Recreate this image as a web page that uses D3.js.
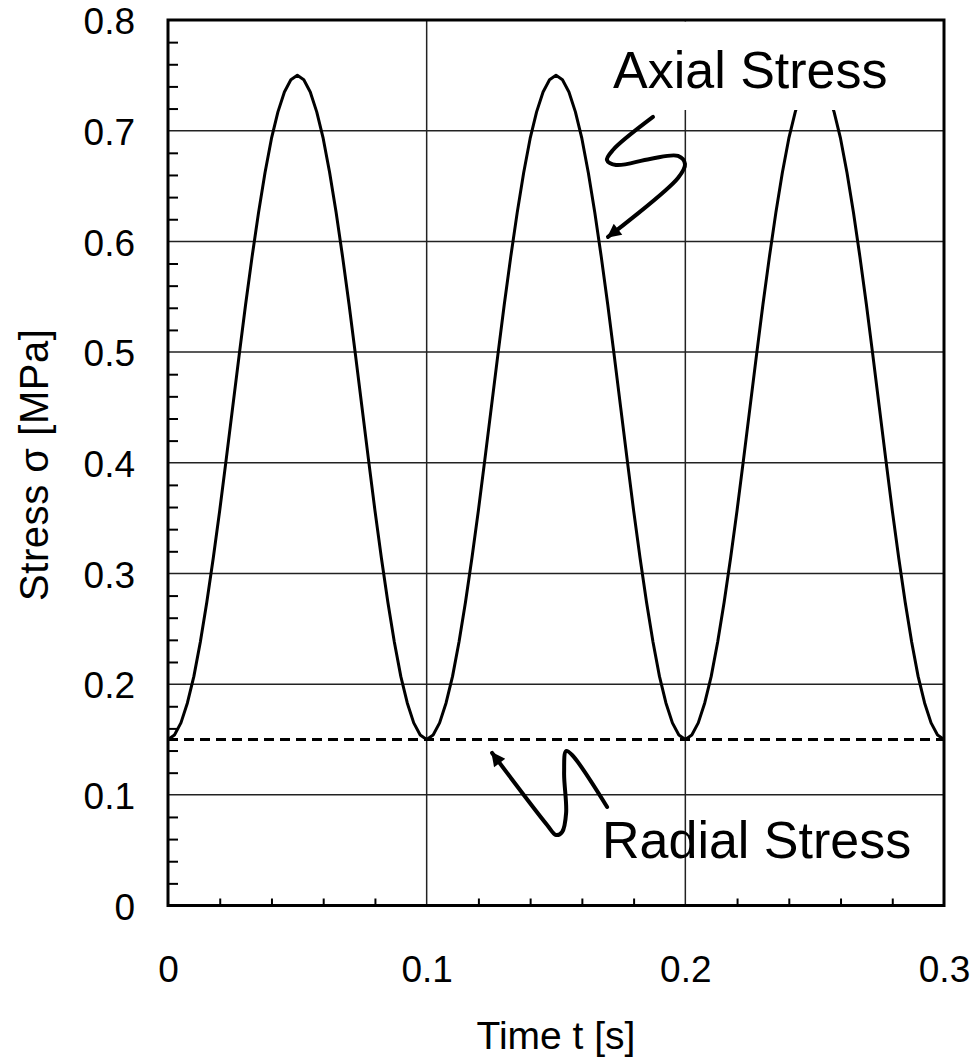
<!DOCTYPE html>
<html lang="en">
<head>
<meta charset="utf-8">
<script src="https://cdn.jsdelivr.net/npm/d3@7"></script>
<title>Axial and Radial Stress vs Time</title>
<style>
    body { margin: 0; background: #fff; }
    svg text { font-family: "Liberation Sans", Arial, sans-serif; fill: #000; }
</style>
</head>
<body>
<div id="chart"></div>
<script>
// sample times [s]
const time = [
    0, 0.0025, 0.005, 0.0075, 0.01, 0.0125, 0.015, 0.0175, 0.02, 0.0225,
    0.025, 0.0275, 0.03, 0.0325, 0.035, 0.0375, 0.04, 0.0425, 0.045, 0.0475,
    0.05, 0.0525, 0.055, 0.0575, 0.06, 0.0625, 0.065, 0.0675, 0.07, 0.0725,
    0.075, 0.0775, 0.08, 0.0825, 0.085, 0.0875, 0.09, 0.0925, 0.095, 0.0975,
    0.1, 0.1025, 0.105, 0.1075, 0.11, 0.1125, 0.115, 0.1175, 0.12, 0.1225,
    0.125, 0.1275, 0.13, 0.1325, 0.135, 0.1375, 0.14, 0.1425, 0.145, 0.1475,
    0.15, 0.1525, 0.155, 0.1575, 0.16, 0.1625, 0.165, 0.1675, 0.17, 0.1725,
    0.175, 0.1775, 0.18, 0.1825, 0.185, 0.1875, 0.19, 0.1925, 0.195, 0.1975,
    0.2, 0.2025, 0.205, 0.2075, 0.21, 0.2125, 0.215, 0.2175, 0.22, 0.2225,
    0.225, 0.2275, 0.23, 0.2325, 0.235, 0.2375, 0.24, 0.2425, 0.245, 0.2475,
    0.25, 0.2525, 0.255, 0.2575, 0.26, 0.2625, 0.265, 0.2675, 0.27, 0.2725,
    0.275, 0.2775, 0.28, 0.2825, 0.285, 0.2875, 0.29, 0.2925, 0.295, 0.2975,
    0.3
];
// axial stress [MPa]
const axialStress = [
    0.150, 0.154, 0.165, 0.183, 0.207, 0.238, 0.274, 0.314, 0.357, 0.403,
    0.450, 0.497, 0.543, 0.586, 0.626, 0.662, 0.693, 0.717, 0.735, 0.746,
    0.750, 0.746, 0.735, 0.717, 0.693, 0.662, 0.626, 0.586, 0.543, 0.497,
    0.450, 0.403, 0.357, 0.314, 0.274, 0.238, 0.207, 0.183, 0.165, 0.154,
    0.150, 0.154, 0.165, 0.183, 0.207, 0.238, 0.274, 0.314, 0.357, 0.403,
    0.450, 0.497, 0.543, 0.586, 0.626, 0.662, 0.693, 0.717, 0.735, 0.746,
    0.750, 0.746, 0.735, 0.717, 0.693, 0.662, 0.626, 0.586, 0.543, 0.497,
    0.450, 0.403, 0.357, 0.314, 0.274, 0.238, 0.207, 0.183, 0.165, 0.154,
    0.150, 0.154, 0.165, 0.183, 0.207, 0.238, 0.274, 0.314, 0.357, 0.403,
    0.450, 0.497, 0.543, 0.586, 0.626, 0.662, 0.693, 0.717, 0.735, 0.746,
    0.750, 0.746, 0.735, 0.717, 0.693, 0.662, 0.626, 0.586, 0.543, 0.497,
    0.450, 0.403, 0.357, 0.314, 0.274, 0.238, 0.207, 0.183, 0.165, 0.154,
    0.150
];
// radial stress is constant
const radialTime = [0, 0.3];
const radialStress = [0.15, 0.15];

const xTicks = [0, 0.1, 0.2, 0.3];
const yTicks = [0, 0.1, 0.2, 0.3, 0.4, 0.5, 0.6, 0.7, 0.8];
const xMinorTicks = [0.02, 0.04, 0.06, 0.08, 0.12, 0.14, 0.16, 0.18, 0.22, 0.24, 0.26, 0.28];
const yMinorTicks = [0.02, 0.04, 0.06, 0.08, 0.12, 0.14, 0.16, 0.18, 0.22, 0.24, 0.26, 0.28,
    0.32, 0.34, 0.36, 0.38, 0.42, 0.44, 0.46, 0.48, 0.52, 0.54, 0.56, 0.58,
    0.62, 0.64, 0.66, 0.68, 0.72, 0.74, 0.76, 0.78];
const xGrid = [0.1, 0.2];
const yGrid = [0.1, 0.2, 0.3, 0.4, 0.5, 0.6, 0.7];

const W = 971, H = 1057;
const x = d3.scaleLinear().domain([0, 0.3]).range([168, 944]);
const y = d3.scaleLinear().domain([0, 0.8]).range([905.5, 20]);

const svg = d3.select("#chart").append("svg")
    .attr("width", W)
    .attr("height", H);

// grid
svg.append("g").selectAll("line")
    .data(yGrid).enter().append("line")
    .attr("x1", x(0)).attr("x2", x(0.3))
    .attr("y1", d => y(d)).attr("y2", d => y(d))
    .attr("stroke", "#222").attr("stroke-width", 1.5);
svg.append("g").selectAll("line")
    .data(xGrid).enter().append("line")
    .attr("x1", d => x(d)).attr("x2", d => x(d))
    .attr("y1", y(0)).attr("y2", y(0.8))
    .attr("stroke", "#222").attr("stroke-width", 1.5);

// minor ticks pointing inwards
const xMinor = svg.append("g")
    .attr("transform", `translate(0,${y(0)})`)
    .call(d3.axisBottom(x).tickValues(xMinorTicks).tickSize(-7).tickFormat(""));
const yMinor = svg.append("g")
    .attr("transform", `translate(${x(0)},0)`)
    .call(d3.axisLeft(y).tickValues(yMinorTicks).tickSize(-10).tickFormat(""));
[xMinor, yMinor].forEach(g => {
    g.select(".domain").remove();
    g.selectAll("line").attr("stroke", "#000").attr("stroke-width", 2);
});

// tick labels
const xAxis = svg.append("g")
    .attr("transform", `translate(0,${y(0)})`)
    .call(d3.axisBottom(x).tickValues(xTicks).tickSize(0).tickPadding(50).tickFormat(d3.format("")));
const yAxis = svg.append("g")
    .attr("transform", `translate(${x(0)},0)`)
    .call(d3.axisLeft(y).tickValues(yTicks).tickSize(0).tickPadding(33).tickFormat(d3.format("")));
[xAxis, yAxis].forEach(g => {
    g.select(".domain").remove();
    g.attr("font-family", null).attr("font-size", null);
    g.selectAll("text").style("font-size", "37px").attr("fill", "#000");
});
yAxis.selectAll("text").attr("dy", "0.37em");

// radial stress (dashed)
svg.append("path")
    .datum(radialTime.map((t, i) => [t, radialStress[i]]))
    .attr("fill", "none")
    .attr("stroke", "#000")
    .attr("stroke-width", 3)
    .attr("stroke-dasharray", "10,6")
    .attr("d", d3.line().x(d => x(d[0])).y(d => y(d[1])));

// axial stress
svg.append("path")
    .datum(time.map((t, i) => [t, axialStress[i]]))
    .attr("fill", "none")
    .attr("stroke", "#000")
    .attr("stroke-width", 3)
    .attr("stroke-linejoin", "round")
    .attr("d", d3.line().x(d => x(d[0])).y(d => y(d[1])));

// label box hides the top of the last peak
svg.append("rect")
    .attr("x", 603).attr("y", 21.5)
    .attr("width", 332).attr("height", 88.5)
    .attr("fill", "#fff");

// frame
svg.append("rect")
    .attr("x", x(0)).attr("y", y(0.8))
    .attr("width", x(0.3) - x(0)).attr("height", y(0) - y(0.8))
    .attr("fill", "none").attr("stroke", "#000").attr("stroke-width", 3);

// axis titles
svg.append("text")
    .attr("x", 556).attr("y", 1049)
    .attr("text-anchor", "middle")
    .style("font-size", "39px")
    .text("Time t [s]");
svg.append("text")
    .attr("transform", "translate(48,465) rotate(-90)")
    .attr("text-anchor", "middle")
    .attr("textLength", 272)
    .attr("lengthAdjust", "spacing")
    .style("font-size", "40px")
    .text("Stress σ [MPa]");

// annotations
svg.append("text")
    .attr("x", 613).attr("y", 88)
    .style("font-size", "52px")
    .text("Axial Stress");
svg.append("text")
    .attr("x", 602).attr("y", 858)
    .style("font-size", "52px")
    .text("Radial Stress");

svg.append("defs").append("marker")
    .attr("id", "head")
    .attr("viewBox", "0 0 10 10")
    .attr("refX", 9).attr("refY", 5)
    .attr("markerUnits", "userSpaceOnUse")
    .attr("markerWidth", 17).attr("markerHeight", 14)
    .attr("orient", "auto")
    .append("path").attr("d", "M0,0 L10,5 L0,10 z").attr("fill", "#000");

const squiggle = d3.line().curve(d3.curveCatmullRom.alpha(0.5));
function arrow(tip, offsets) {
    const tx = x(tip[0]), ty = y(tip[1]);
    svg.append("path")
        .attr("d", squiggle(offsets.map(o => [tx + o[0], ty + o[1]])))
        .attr("fill", "none")
        .attr("stroke", "#000")
        .attr("stroke-width", 4)
        .attr("stroke-linecap", "round")
        .attr("marker-end", "url(#head)");
}
// pointing at the falling side of the second peak
arrow([0.1701, 0.604], [[45, -120], [5, -87], [-1, -77], [8, -72], [42, -78], [70, -81], [77, -73], [70, -59], [0, 0]]);
// pointing at the dashed line
arrow([0.1253, 0.1378], [[115, 54], [80, 2], [74, -2], [72, 20], [74, 60], [70, 79], [64, 82], [55, 72], [0, 0]]);
</script>
</body>
</html>
